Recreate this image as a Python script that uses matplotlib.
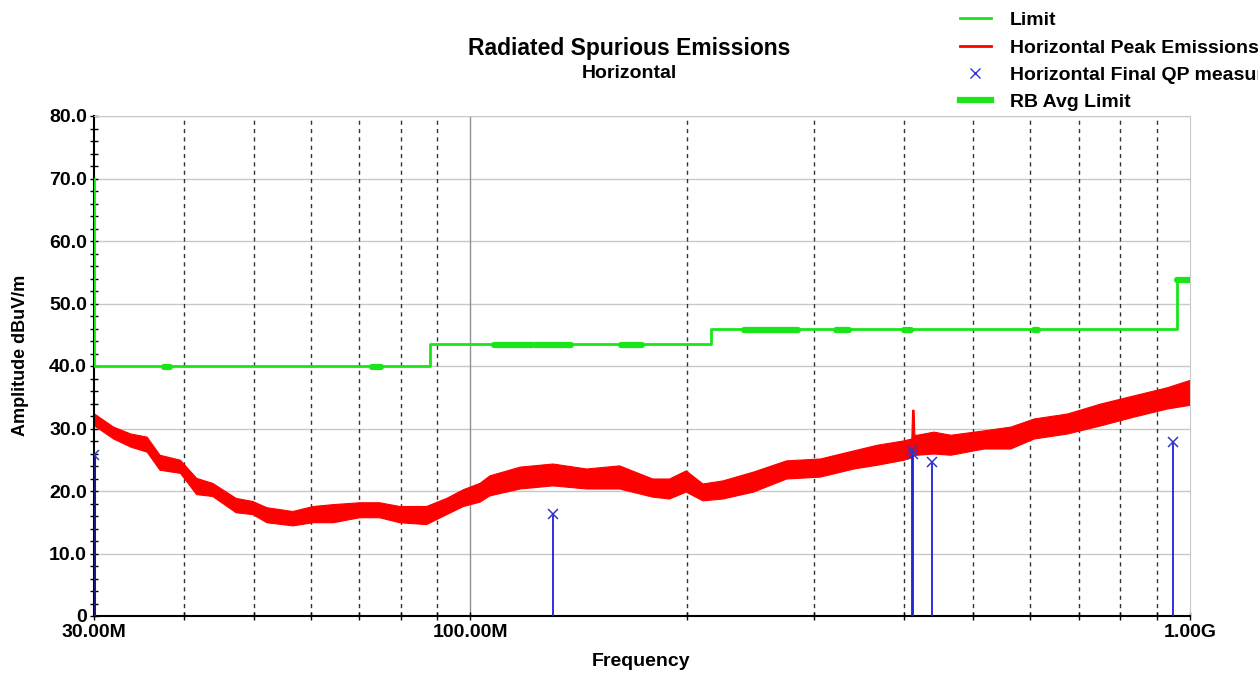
import numpy as np
import matplotlib
matplotlib.use("Agg")
import matplotlib.pyplot as plt
from matplotlib.ticker import FixedLocator, NullFormatter

plt.rcParams['font.family'] = ['Liberation Sans', 'DejaVu Sans']
plt.rcParams['font.weight'] = 'bold'

# ==== DATA (MHz, dBuV/m) ====

# FCC limit, drawn as a polyline
limit_freq = [30, 30, 88, 88, 216, 216, 960, 960, 1000]
limit_level = [70, 40, 40, 43.5, 43.5, 46, 46, 54, 54]

# restricted bands (RB avg limit segments)
rb_start = [37.5, 73.0, 74.8, 108.0, 123.0, 149.9, 156.52, 156.7, 162.01, 167.72, 240, 322, 399.9, 608, 960]
rb_stop = [38.25, 74.6, 75.2, 121.94, 138.0, 150.05, 156.53, 156.9, 167.17, 173.2, 285, 335.4, 410, 614, 1000]
rb_level = [40, 40, 40, 43.5, 43.5, 43.5, 43.5, 43.5, 43.5, 43.5, 46, 46, 46, 46, 54]

# peak emission trace, read as lower / upper envelope
peak_freq = [30.0, 31.9, 33.7, 35.5, 37.0, 39.5, 41.6, 43.8, 47.2, 49.8, 52.1, 56.6,
             60.4, 64.4, 70.1, 74.7, 79.7, 86.8, 92.6, 97.7, 103.0, 106.3, 117.1,
             130.1, 144.9, 161.0, 179.0, 188.9, 199.2, 210.2, 224.1, 247.0, 274.7,
             306.0, 340.7, 367.3, 399.9, 410.0, 411.0, 413.0, 414.0, 417.4, 440.3,
             464.5, 516.6, 562.8, 606.6, 674.8, 750.6, 834.9, 928.8, 1000.0]
peak_high = [32.4, 30.3, 29.2, 28.7, 25.8, 25.0, 22.1, 21.3, 18.9, 18.4, 17.4, 16.8,
             17.6, 17.9, 18.2, 18.2, 17.6, 17.6, 18.9, 20.3, 21.3, 22.5, 23.9,
             24.4, 23.6, 24.1, 22.0, 22.0, 23.3, 21.2, 21.7, 23.1, 24.9,
             25.2, 26.5, 27.4, 28.1, 28.4, 33.0, 33.0, 29.0, 29.0, 29.5,
             29.0, 29.7, 30.3, 31.6, 32.4, 34.0, 35.3, 36.6, 37.8]
peak_low = [30.5, 28.4, 27.1, 26.3, 23.4, 22.9, 19.5, 19.2, 16.6, 16.3, 15.0, 14.5,
            15.0, 15.0, 15.8, 15.8, 15.0, 14.7, 16.3, 17.6, 18.3, 19.3, 20.4,
            20.9, 20.4, 20.4, 19.1, 18.8, 19.9, 18.5, 18.8, 19.9, 22.0,
            22.3, 23.6, 24.2, 25.0, 25.4, 25.6, 25.7, 25.8, 25.8, 26.0,
            25.8, 26.8, 26.8, 28.4, 29.2, 30.5, 31.9, 33.2, 33.8]

# final QP measurements
qp_freq = [30.0, 130.3, 411.0, 412.5, 438.0, 947.0]
qp_level = [25.8, 16.3, 26.5, 26.0, 24.7, 27.8]

# ==== PLOT ====

fig = plt.figure(figsize=(12.58, 6.75), dpi=100)
ax = fig.add_axes([94 / 1258, 59 / 675, 1096 / 1258, 500 / 675])

green = '#19e619'
ax.set_xscale('log')
ax.set_xlim(30, 1000)
ax.set_ylim(0, 80)

# grid
for v in range(10, 81, 10):
    ax.axhline(v, color='#c8c8c8', lw=1, zorder=0)
dash_freqs = [40, 50, 60, 70, 80, 90, 200, 300, 400, 500, 600, 700, 800, 900]
for f in dash_freqs:
    ax.axvline(f, color='#333333', lw=1, ls=(0, (3, 3)), zorder=0)
ax.axvline(100, color='#909090', lw=1, zorder=0)

ax.fill_between(peak_freq, peak_low, peak_high, color='#ff0000', lw=0.8,
                edgecolor='#ff0000', zorder=2)
ax.plot(limit_freq, limit_level, color=green, lw=2, zorder=3)
for s, e, lv in zip(rb_start, rb_stop, rb_level):
    ax.plot([s, e], [lv - 0.2, lv - 0.2], color=green, lw=4.5,
            solid_capstyle='round', zorder=3)

for f, v in zip(qp_freq, qp_level):
    c = '#1a1a80' if f < 31 else '#2020d8'
    ax.plot([f, f], [0, v], color=c, lw=2.2 if f < 31 else 1.3, zorder=4)
ax.plot(qp_freq, qp_level, ls='none', marker='x', ms=7, mew=1.1,
        color='#3535c8', zorder=5)

# ticks
ax.xaxis.set_major_locator(FixedLocator([30, 100, 1000]))
ax.set_xticklabels(['30.00M', '100.00M', '1.00G'])
ax.xaxis.set_minor_locator(FixedLocator(dash_freqs))
ax.xaxis.set_minor_formatter(NullFormatter())
ax.set_yticks(range(0, 81, 10))
ax.set_yticklabels(['0'] + ['%.1f' % v for v in range(10, 81, 10)])
ax.set_yticks(range(0, 81, 2), minor=True)
ax.tick_params(axis='both', which='major', labelsize=14, length=6, width=1,
               direction='inout', pad=2)
ax.tick_params(axis='both', which='minor', length=6, width=1, direction='inout')
ax.tick_params(axis='x', which='major', pad=3)

for side in ['top', 'right']:
    ax.spines[side].set_color('#c8c8c8')
for side in ['left', 'bottom']:
    ax.spines[side].set_color('black')
    ax.spines[side].set_linewidth(1.5)

fig.text(0.5, 1 - 48 / 675, 'Radiated Spurious Emissions', ha='center',
         va='center', fontsize=16.5, fontweight='bold')
fig.text(0.5, 1 - 74 / 675, 'Horizontal', ha='center', va='center',
         fontsize=14, fontweight='bold')
fig.text(21 / 1258, 1 - 355 / 675, 'Amplitude dBuV/m', rotation=90,
         ha='center', va='center', fontsize=13, fontweight='bold')
fig.text(641 / 1258, 1 - 662 / 675, 'Frequency', ha='center', va='center',
         fontsize=14, fontweight='bold')

# legend, partly off the right edge like the original
handles = [
    plt.Line2D([], [], color=green, lw=2),
    plt.Line2D([], [], color='#ff0000', lw=2),
    plt.Line2D([], [], color='#3535c8', ls='none', marker='x', ms=7, mew=1),
    plt.Line2D([], [], color=green, lw=4.5),
]
labels = ['Limit', 'Horizontal Peak Emissions', 'Horizontal Final QP measurements',
          'RB Avg Limit']
fig.legend(handles, labels, loc='upper left', bbox_to_anchor=(948 / 1258, 1.0),
           frameon=False, fontsize=14, handlelength=1.6, handletextpad=1.0,
           labelspacing=0.5, borderaxespad=0.2)

fig.savefig('out.png', dpi=100)
